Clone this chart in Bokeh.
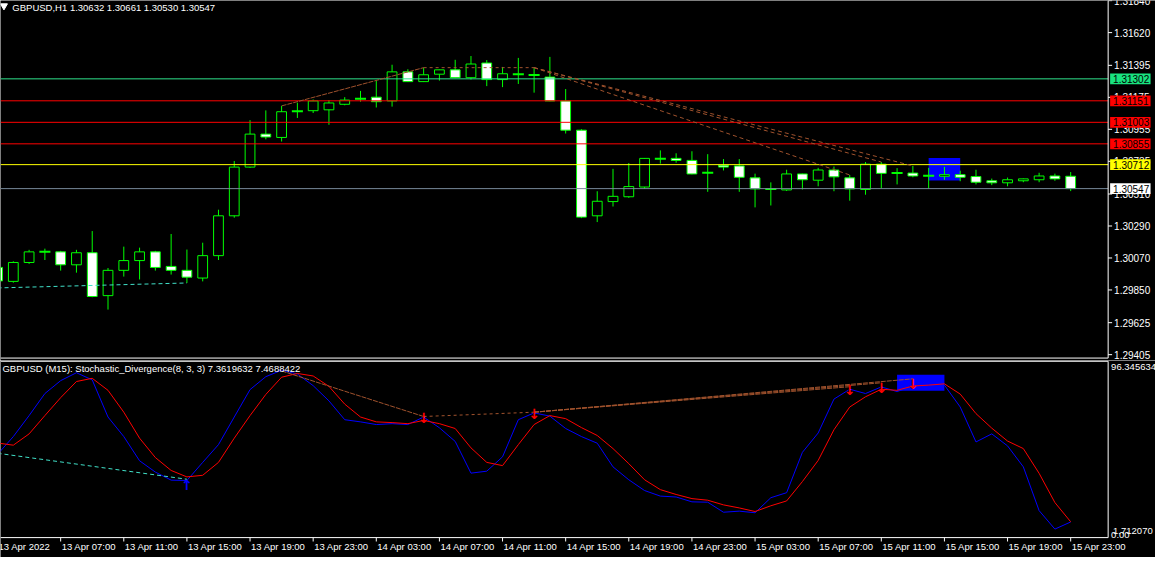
import numpy as np
from bokeh.plotting import figure
from bokeh.models import Range1d, ColumnDataSource
from bokeh.layouts import column
from bokeh.embed import file_html
from bokeh.resources import INLINE
from bokeh.core.properties import value

# ---------------- data ----------------
symbol_title = "GBPUSD,H1  1.30632 1.30661 1.30530 1.30547"
indicator_title = "GBPUSD (M15):  Stochastic_Divergence(8, 3, 3) 7.3619632 7.4688422"

# hourly candles, 13 Apr 2022 03:00 .. 15 Apr 2022 23:00
opens = [1.30005, 1.29909, 1.30039, 1.30112, 1.30112, 1.30023, 1.30106, 1.29811, 1.29985, 1.30052,
         1.30112, 1.30012, 1.29985, 1.29932, 1.30086, 1.30360, 1.30695, 1.30922, 1.30899, 1.31080,
         1.31083, 1.31089, 1.31127, 1.31165, 1.31176, 1.31150, 1.31350, 1.31283, 1.31334, 1.31364,
         1.31310, 1.31411, 1.31297, 1.31334, 1.31328, 1.31314, 1.31150, 1.30949, 1.30360, 1.30458,
         1.30491, 1.30558, 1.30752, 1.30755, 1.30741, 1.30656, 1.30708, 1.30703, 1.30621, 1.30545,
         1.30538, 1.30648, 1.30605, 1.30675, 1.30621, 1.30541, 1.30715, 1.30654, 1.30654, 1.30636,
         1.30632, 1.30643, 1.30630, 1.30601, 1.30587, 1.30601, 1.30608, 1.30634, 1.30632]
highs = [1.30021, 1.30047, 1.30126, 1.30134, 1.30119, 1.30126, 1.30255, 1.30001, 1.30148, 1.30141,
         1.30119, 1.30235, 1.30128, 1.30175, 1.30402, 1.30737, 1.31018, 1.31085, 1.31116, 1.31138,
         1.31160, 1.31156, 1.31176, 1.31219, 1.31290, 1.31399, 1.31368, 1.31379, 1.31366, 1.31433,
         1.31459, 1.31431, 1.31384, 1.31446, 1.31379, 1.31453, 1.31232, 1.30956, 1.30529, 1.30683,
         1.30723, 1.30757, 1.30810, 1.30790, 1.30804, 1.30784, 1.30750, 1.30750, 1.30650, 1.30590,
         1.30677, 1.30650, 1.30690, 1.30699, 1.30641, 1.30730, 1.30730, 1.30688, 1.30703, 1.30690,
         1.30697, 1.30670, 1.30677, 1.30616, 1.30623, 1.30616, 1.30656, 1.30650, 1.30661]
lows = [1.29900, 1.29900, 1.30029, 1.30056, 1.29983, 1.29969, 1.29800, 1.29715, 1.29942, 1.29922,
        1.29983, 1.29956, 1.29898, 1.29909, 1.30056, 1.30347, 1.30690, 1.30886, 1.30871, 1.31033,
        1.31067, 1.30986, 1.31120, 1.31145, 1.31105, 1.31111, 1.31280, 1.31280, 1.31290, 1.31307,
        1.31297, 1.31252, 1.31245, 1.31267, 1.31207, 1.31148, 1.30926, 1.30344, 1.30317, 1.30424,
        1.30484, 1.30545, 1.30719, 1.30725, 1.30645, 1.30525, 1.30672, 1.30525, 1.30418, 1.30431,
        1.30531, 1.30541, 1.30563, 1.30529, 1.30464, 1.30505, 1.30551, 1.30576, 1.30625, 1.30547,
        1.30608, 1.30598, 1.30576, 1.30571, 1.30563, 1.30591, 1.30591, 1.30601, 1.30530]
closes = [1.29912, 1.30039, 1.30112, 1.30112, 1.30023, 1.30106, 1.29805, 1.29985, 1.30052, 1.30112,
          1.30005, 1.29985, 1.29938, 1.30086, 1.30360, 1.30695, 1.30922, 1.30902, 1.31076, 1.31080,
          1.31150, 1.31136, 1.31156, 1.31165, 1.31145, 1.31350, 1.31283, 1.31330, 1.31364, 1.31310,
          1.31404, 1.31297, 1.31337, 1.31334, 1.31328, 1.31150, 1.30949, 1.30351, 1.30460, 1.30494,
          1.30561, 1.30755, 1.30752, 1.30741, 1.30648, 1.30656, 1.30695, 1.30625, 1.30545, 1.30545,
          1.30648, 1.30608, 1.30675, 1.30628, 1.30545, 1.30715, 1.30652, 1.30654, 1.30634, 1.30636,
          1.30643, 1.30625, 1.30591, 1.30587, 1.30608, 1.30614, 1.30634, 1.30614, 1.30547]

# stochastic main (%K) and signal (%D)
stoch_main = [45.1, 55.0, 66.7, 79.0, 86.2, 90.6, 86.6, 65.9, 55.0, 41.5,
              35.2, 30.7, 30.5, 40.6, 50.5, 65.9, 81.2, 88.4, 92.0, 89.9,
              83.4, 74.9, 64.4, 63.2, 61.7, 62.2, 61.7, 65.9, 59.9, 52.3,
              34.6, 35.7, 43.7, 64.4, 68.2, 66.4, 59.5, 55.0, 51.3, 38.1,
              30.9, 24.9, 21.8, 21.3, 18.6, 18.4, 12.8, 13.4, 12.5, 20.9,
              23.7, 46.2, 57.0, 75.9, 81.4, 79.0, 82.7, 80.1, 83.2, 84.1,
              83.7, 71.5, 52.0, 56.5, 49.8, 38.1, 13.7, 3.4, 7.3619632]
stoch_signal = [51.4, 50.2, 56.5, 66.7, 76.7, 85.7, 87.5, 80.8, 68.6, 54.1,
                43.3, 36.1, 32.5, 33.4, 40.6, 54.1, 66.7, 78.5, 88.1, 90.2,
                88.8, 83.0, 73.1, 65.9, 63.2, 62.8, 62.2, 64.0, 62.2, 59.5,
                48.7, 40.6, 38.8, 50.5, 61.7, 66.7, 65.0, 60.0, 55.6, 48.3,
                39.9, 30.9, 25.4, 22.7, 20.4, 19.5, 16.9, 15.2, 13.2, 16.4,
                19.1, 29.9, 41.7, 58.8, 71.5, 77.2, 81.4, 80.8, 83.2, 83.7,
                84.4, 78.7, 67.8, 59.7, 52.5, 48.3, 34.5, 18.2, 7.4688422]

tick_bars = [0, 4, 8, 12, 16, 20, 24, 28, 32, 36, 40, 44, 48, 52, 56, 60, 64, 68]
tick_labels = ["13 Apr 2022", "13 Apr 07:00", "13 Apr 11:00", "13 Apr 15:00", "13 Apr 19:00",
               "13 Apr 23:00", "14 Apr 03:00", "14 Apr 07:00", "14 Apr 11:00", "14 Apr 15:00",
               "14 Apr 19:00", "14 Apr 23:00", "15 Apr 03:00", "15 Apr 07:00", "15 Apr 11:00",
               "15 Apr 15:00", "15 Apr 19:00", "15 Apr 23:00"]
price_ticks = [1.31840, 1.31620, 1.31395, 1.31175, 1.30955, 1.30735,
               1.30510, 1.30290, 1.30070, 1.29850, 1.29625, 1.29405]

level_prices = [1.31302, 1.31151, 1.31003, 1.30855, 1.30712, 1.30547]
level_line_colors = ["#2EE38C", "#FF0000", "#FF0000", "#FF0000", "#FFFF00", "#778899"]
level_box_colors = ["#19E37F", "#FF0000", "#FF0000", "#FF0000", "#FFFF00", "#FFFFFF"]

# divergence lines (bar index pairs)
bear_div_from = [18, 27, 34, 34, 34]
bear_div_to = [27, 34, 54, 56, 58]
bear_div_osc_from = [91.6, 66.2, 68.6, 68.6, 68.6]
bear_div_osc_to = [66.2, 68.6, 82.8, 85.0, 87.2]
bull_div_bars = [0, 12]
bull_div_price = [1.29864, 1.29898]
bull_div_osc = [45.7, 31.2]

down_arrow_bars = [27, 34, 54, 56, 58]
down_arrow_osc = [65.5, 67.7, 80.7, 82.3, 84.4]
up_arrow_bars = [12]
up_arrow_osc = [32.5]

zone_main_bars = [59, 61]
zone_main_price = [1.30603, 1.30757]
zone_osc_bars = [57, 60]
zone_osc_vals = [80.5, 89.5]

osc_scale_labels = ["96.345634", "1.712070", "0.00"]

# ---------------- layout helpers (reference pixel -> data) ----------------
FONT = "Liberation Sans"
LIME = "#00FF00"
BROWN = "#A0522D"
AQUA = "#40E0C8"
W, H_MAIN, H_OSC = 1155, 360, 197

P0, PPX = 1.29405, 6.692e-5
VPX = 96.345634 / 178.0


def ix(rx):
    return (rx + 3.0) / 16.0


def py(ry):
    return P0 + (364.0 - ry) * PPX


def sv(ry):
    return (550.0 - ry) * VPX


xr = Range1d(ix(0), ix(1171))


def make_fig(h, yr):
    return figure(width=W, height=h, x_range=xr, y_range=yr, output_backend="svg",
                  toolbar_location=None, x_axis_type=None, y_axis_type=None, min_border=0,
                  background_fill_color="black", border_fill_color="black",
                  outline_line_color=None)


def txt(p, xs, ys, texts, color="white", size="10px", align="left", baseline="middle",
        font=FONT, style="normal"):
    p.text(x=xs, y=ys, text=texts, text_color=color, text_font=value(font),
           text_font_size=size, text_align=align, text_baseline=baseline,
           text_font_style=style)


AX = ix(1123)

# ---------------- main price panel ----------------
main = make_fig(H_MAIN, Range1d(py(370), py(0)))

main.quad(left=[zone_main_bars[0]], right=[zone_main_bars[1]], bottom=[zone_main_price[0]],
          top=[zone_main_price[1]], fill_color="#0000FF", line_color=None)

o, h, l, c = (np.array(a) for a in (opens, highs, lows, closes))
bars = np.arange(len(o))
main.segment(x0=bars, y0=h, x1=bars, y1=l, line_color=LIME, line_width=1)
doji = np.isclose(o, c)
src = ColumnDataSource(dict(x=bars[~doji], top=np.maximum(o, c)[~doji],
                            bottom=np.minimum(o, c)[~doji],
                            fill=np.where(c > o, "black", "white")[~doji]))
main.vbar(x="x", top="top", bottom="bottom", width=0.62, fill_color="fill",
          line_color=LIME, line_width=1, source=src)
main.segment(x0=bars[doji] - 0.35, y0=o[doji], x1=bars[doji] + 0.35, y1=o[doji],
             line_color=LIME, line_width=2)

n_lv = len(level_prices)
main.segment(x0=[ix(0)] * n_lv, y0=level_prices, x1=[AX] * n_lv, y1=level_prices,
             line_color=level_line_colors, line_width=1)

for a, b in zip(bear_div_from, bear_div_to):
    dash = "5 1" if a == 18 else ("3 3" if a == 27 else "4 3")
    main.line([a, b], [h[a], h[b]], line_color=BROWN, line_width=1, line_dash=dash)
main.line(bull_div_bars, bull_div_price, line_color=AQUA, line_width=1, line_dash="4 3")

# frame & price axis
main.segment(x0=[ix(0)], y0=[py(367.5)], x1=[AX], y1=[py(367.5)], line_color="white")
main.segment(x0=[AX], y0=[py(0)], x1=[AX], y1=[py(367.5)], line_color="white")
main.segment(x0=[AX] * len(price_ticks), y0=price_ticks, x1=[ix(1127)] * len(price_ticks),
             y1=price_ticks, line_color="white")
txt(main, [ix(1129)] * len(price_ticks), price_ticks, [f"{t:.5f}" for t in price_ticks])

main.quad(left=[ix(1125)] * n_lv, right=[ix(1166)] * n_lv,
          bottom=[v - 5.5 * PPX for v in level_prices], top=[v + 5.5 * PPX for v in level_prices],
          fill_color=level_box_colors, line_color=None)
txt(main, [ix(1128)] * n_lv, level_prices, [f"{v:.5f}" for v in level_prices], color="black")

main.scatter([ix(3.5)], [py(5.5)], marker="inverted_triangle", size=7, fill_color="white",
             line_color="white")
txt(main, [ix(12)], [py(6.7)], [symbol_title], size="9.5px")

# ---------------- oscillator panel ----------------
osc = make_fig(H_OSC, Range1d(sv(573), sv(370)))

osc.quad(left=[zone_osc_bars[0]], right=[zone_osc_bars[1]], bottom=[zone_osc_vals[0]],
         top=[zone_osc_vals[1]], fill_color="#0000FF", line_color=None)
osc.line(bars, stoch_main, line_color="#0000FF", line_width=1)
osc.line(bars, stoch_signal, line_color="#FF0000", line_width=1)

for a, b, va, vb in zip(bear_div_from, bear_div_to, bear_div_osc_from, bear_div_osc_to):
    dash = "3 3" if a == 27 else "5 1"
    osc.line([a, b], [va, vb], line_color=BROWN, line_width=1, line_dash=dash)
osc.line(bull_div_bars, bull_div_osc, line_color=AQUA, line_width=1, line_dash="4 3")

osc.text(x=down_arrow_bars, y=down_arrow_osc, text=["\u2193"] * len(down_arrow_bars),
         text_color="#FF0000", text_font=value("DejaVu Sans"), text_font_size="14px",
         text_font_style="bold", text_align="center", text_baseline="alphabetic")
osc.text(x=up_arrow_bars, y=up_arrow_osc, text=["\u2191"] * len(up_arrow_bars),
         text_color="#0000FF", text_font=value("DejaVu Sans"), text_font_size="14px",
         text_font_style="bold", text_align="center", text_baseline="top")

# frame
osc.segment(x0=[ix(0)], y0=[sv(370.8)], x1=[AX], y1=[sv(370.8)], line_color="white")
osc.segment(x0=[ix(0)], y0=[sv(552.5)], x1=[AX], y1=[sv(552.5)], line_color="white")
osc.segment(x0=[AX], y0=[sv(370.8)], x1=[AX], y1=[sv(552.5)], line_color="white")

# time axis
nt = len(tick_bars)
osc.segment(x0=tick_bars, y0=[sv(552.5)] * nt, x1=tick_bars, y1=[sv(556.5)] * nt,
            line_color="white")
txt(osc, [b + 1.0 / 16 for b in tick_bars], [sv(562)] * nt, tick_labels, size="9.5px")

# oscillator scale labels
txt(osc, [ix(1126)], [sv(377)], [osc_scale_labels[0]], size="9.5px")
txt(osc, [ix(1128)], [sv(545.5)], [osc_scale_labels[1]], size="9.5px")
txt(osc, [ix(1126)], [sv(550)], [osc_scale_labels[2]], size="9.5px")

txt(osc, [ix(2)], [sv(378.5)], [indicator_title], size="9.5px")

layout = column(main, osc, spacing=0)
open("out.html", "w").write(file_html(layout, INLINE))
